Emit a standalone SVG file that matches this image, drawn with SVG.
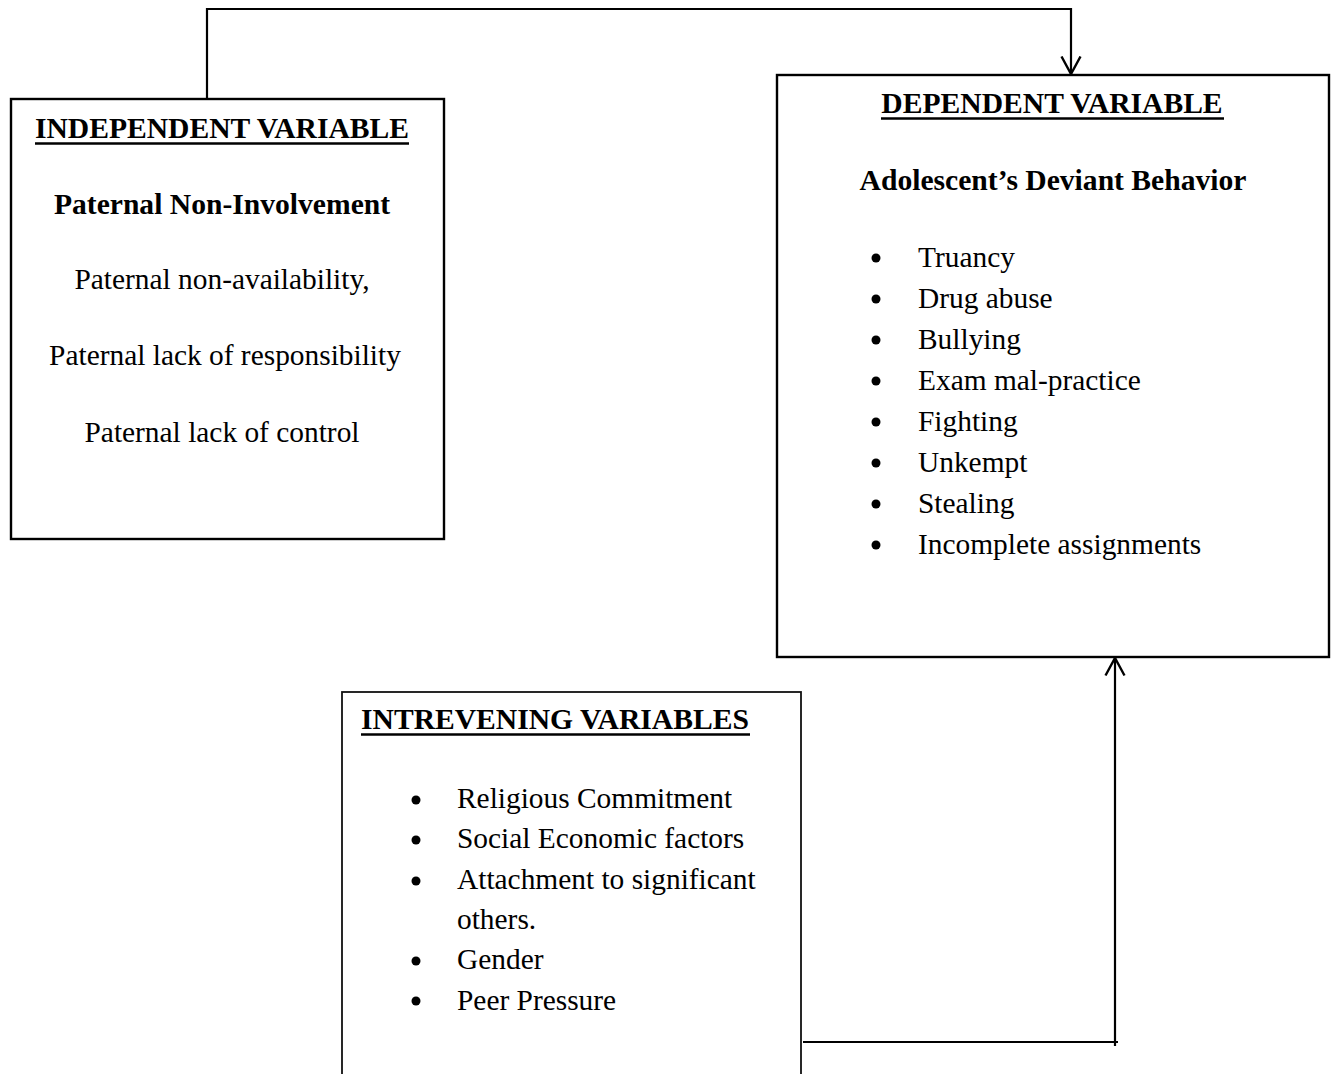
<svg xmlns="http://www.w3.org/2000/svg" width="1338" height="1074" viewBox="0 0 1338 1074">
  <style>
    text { font-family: "Liberation Serif", "Times New Roman", serif; font-size: 29.4px; fill: #000; }
    .b { font-weight: bold; font-size: 29.6px; }
    .c { text-anchor: middle; }
    .box { fill: #fff; stroke: #000; stroke-width: 2.4; }
    .thin { stroke-width: 1.8; stroke: #111; }
    .ul { stroke: #000; stroke-width: 2.5; }
    .wire { fill: none; stroke: #000; stroke-width: 2.2; }
    .dot { fill: #000; }
  </style>
  <defs>
    <marker id="open" viewBox="0 0 20 22" refX="18.5" refY="11" markerWidth="20" markerHeight="22" markerUnits="userSpaceOnUse" orient="auto">
      <path d="M1 1.5 L18.5 11 L1 20.5" fill="none" stroke="#000" stroke-width="2.4"/>
    </marker>
  </defs>

  <rect width="1338" height="1074" fill="#fff"/>

  <!-- connectors -->
  <g id="connectors">
    <polyline class="wire" points="207,99 207,9 1071,9 1071,74" marker-end="url(#open)"/>
    <line class="wire" x1="803" y1="1042" x2="1118" y2="1042"/>
    <line class="wire" x1="1115" y1="1046" x2="1115" y2="658" marker-end="url(#open)"/>
  </g>

  <!-- independent variable -->
  <g id="independent">
    <rect class="box" x="11" y="99" width="433" height="440"/>
    <text class="b c" x="222" y="138">INDEPENDENT VARIABLE</text>
    <line class="ul" x1="35" y1="143.5" x2="409" y2="143.5"/>
    <text class="b c" x="222" y="214">Paternal Non-Involvement</text>
    <text class="c" x="222" y="289">Paternal non-availability,</text>
    <text class="c" x="225" y="365">Paternal lack of responsibility</text>
    <text class="c" x="222" y="442">Paternal lack of control</text>
  </g>

  <!-- dependent variable -->
  <g id="dependent">
    <rect class="box" x="777" y="75" width="552" height="582"/>
    <text class="b c" x="1052" y="113">DEPENDENT VARIABLE</text>
    <line class="ul" x1="881" y1="118.5" x2="1224" y2="118.5"/>
    <text class="b c" x="1053" y="190">Adolescent’s Deviant Behavior</text>
    <g>
      <circle class="dot" cx="876" cy="258" r="4.5"/><text x="918" y="267">Truancy</text>
      <circle class="dot" cx="876" cy="299" r="4.5"/><text x="918" y="308">Drug abuse</text>
      <circle class="dot" cx="876" cy="340" r="4.5"/><text x="918" y="349">Bullying</text>
      <circle class="dot" cx="876" cy="381" r="4.5"/><text x="918" y="390">Exam mal-practice</text>
      <circle class="dot" cx="876" cy="422" r="4.5"/><text x="918" y="431">Fighting</text>
      <circle class="dot" cx="876" cy="463" r="4.5"/><text x="918" y="472">Unkempt</text>
      <circle class="dot" cx="876" cy="504" r="4.5"/><text x="918" y="513">Stealing</text>
      <circle class="dot" cx="876" cy="545" r="4.5"/><text x="918" y="554">Incomplete assignments</text>
    </g>
  </g>

  <!-- intervening variables -->
  <g id="intervening">
    <rect class="box thin" x="342" y="692" width="459" height="400"/>
    <text class="b" x="361" y="729">INTREVENING VARIABLES</text>
    <line class="ul" x1="361" y1="734.5" x2="750" y2="734.5"/>
    <g>
      <circle class="dot" cx="416" cy="800" r="4.5"/><text x="457" y="808">Religious Commitment</text>
      <circle class="dot" cx="416" cy="840" r="4.5"/><text x="457" y="848">Social Economic factors</text>
      <circle class="dot" cx="416" cy="881" r="4.5"/><text x="457" y="889">Attachment to significant</text>
      <text x="457" y="929">others.</text>
      <circle class="dot" cx="416" cy="961" r="4.5"/><text x="457" y="969">Gender</text>
      <circle class="dot" cx="416" cy="1001" r="4.5"/><text x="457" y="1010">Peer Pressure</text>
    </g>
  </g>
</svg>
